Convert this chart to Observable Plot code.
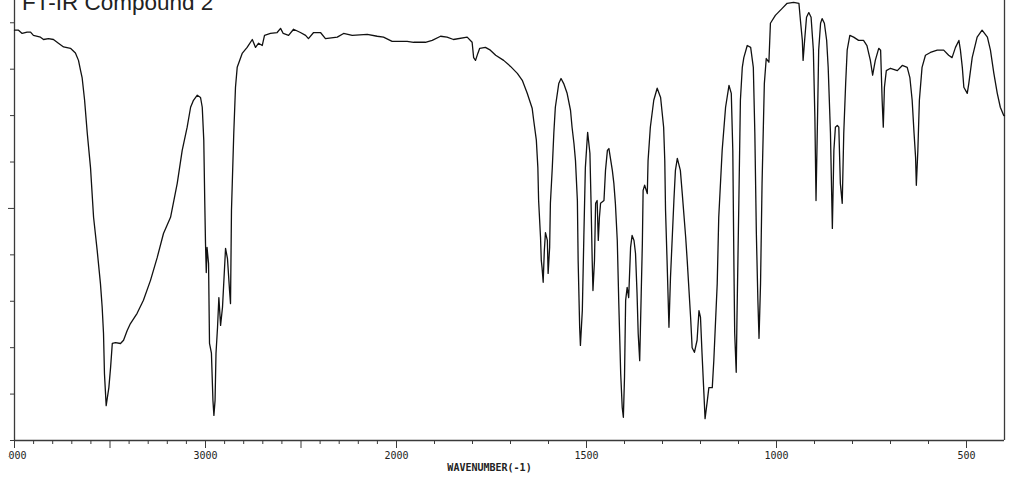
<!DOCTYPE html>
<html>
<head>
<meta charset="utf-8">
<script src="https://cdn.jsdelivr.net/npm/d3@7"></script>
<script src="https://cdn.jsdelivr.net/npm/@observablehq/plot@0.6"></script>
<style>
  html, body { margin: 0; padding: 0; background: #fff; }
  #wrap { position: relative; width: 1024px; height: 482px; overflow: hidden; }
  #wrap svg { display: block; position: absolute; left: 0; top: 0; clip-path: inset(0 0 0 8px); }
  #title { position: absolute; left: 22px; top: -8px; font: 22.5px/22px "Liberation Sans", Arial, sans-serif; color: #222; white-space: nowrap; z-index: 2; }
  #warn { position: absolute; left: 300px; top: 200px; color: red; font: 20px sans-serif; z-index: 3; }
</style>
</head>
<body>
<div id="wrap"><div id="title">FT-IR Compound 2</div></div>
<script>
const titleText = "FT-IR Compound 2";
const xLabel = "WAVENUMBER(-1)";

const wavenumber = [4000,3979,3960,3934,3916,3901,3864,3848,3822,3796,3770,3743,3707,3681,3665,3654,3646,3633,3619,3602,3586,3567,3550,3541,3534,3529,3520,3506,3497,3488,3471,3445,3429,3410,3393,3358,3325,3288,3253,3220,3183,3148,3122,3096,3078,3063,3043,3026,3017,3009,3004,3000,2996,2992,2984,2979,2969,2961,2956,2950,2945,2937,2930,2921,2911,2895,2885,2874,2869,2864,2852,2843,2834,2808,2782,2755,2738,2722,2703,2691,2660,2625,2607,2593,2565,2539,2503,2476,2461,2434,2398,2372,2310,2277,2232,2153,2101,2068,2023,1972,1955,1924,1906,1884,1867,1850,1814,1801,1797,1792,1786,1781,1766,1753,1739,1718,1700,1682,1669,1656,1643,1639,1632,1628,1626,1621,1619,1617,1614,1611,1608,1603,1601,1597,1595,1590,1586,1582,1573,1567,1560,1551,1542,1538,1533,1529,1524,1522,1518,1516,1511,1507,1503,1497,1491,1488,1485,1483,1479,1476,1472,1469,1466,1463,1454,1450,1445,1441,1432,1428,1424,1419,1415,1410,1406,1403,1400,1397,1393,1389,1384,1380,1375,1371,1367,1364,1360,1356,1353,1351,1347,1340,1338,1332,1323,1314,1305,1297,1294,1292,1288,1283,1279,1270,1266,1261,1253,1248,1239,1235,1226,1222,1216,1209,1204,1200,1196,1191,1188,1182,1178,1169,1165,1156,1152,1143,1134,1125,1119,1115,1112,1110,1106,1104,1099,1095,1090,1086,1077,1068,1061,1057,1053,1049,1046,1042,1038,1032,1027,1020,1016,1003,985,972,955,941,937,932,930,926,921,915,909,903,899,896,892,889,884,880,874,868,864,858,853,849,845,840,836,832,827,823,818,814,807,797,784,771,762,753,747,740,731,726,722,719,716,711,700,682,669,656,649,643,638,634,632,628,624,617,608,595,577,560,547,538,529,520,516,511,507,498,494,485,472,459,445,437,428,419,411,402,400];

const transmittance = [88.4,88.4,87.7,88.0,88.0,87.3,86.9,86.4,86.6,86.4,85.6,84.8,84.5,83.5,81.9,79.7,78.2,73.3,66.2,58.8,48.1,40.9,33.8,28.7,23.1,14.4,7.5,11.4,15.7,20.9,21.1,20.9,21.6,23.7,25.2,27.4,30.2,34.5,39.4,44.6,48.1,55.4,62.5,67.5,71.8,73.3,74.4,73.9,71.8,64.7,51.7,42.5,36.2,41.6,38.1,20.9,18.8,8.6,5.4,8.6,18.8,24.4,30.8,24.8,28.7,41.4,39.2,32.3,29.5,49.6,66.2,76.1,80.4,83.4,84.7,86.4,84.7,85.6,85.1,87.3,87.7,87.9,88.8,87.7,87.3,88.6,87.9,87.3,86.6,87.9,87.9,86.6,86.9,87.7,87.3,87.5,87.1,86.9,86.0,86.0,85.8,85.8,86.2,87.1,86.9,86.4,86.9,85.8,82.5,81.9,83.4,84.5,84.7,84.1,83.0,81.9,80.6,79.1,77.6,74.8,71.6,69.0,64.7,58.8,51.7,43.8,38.8,37.3,34.1,40.9,44.8,43.1,36.0,41.6,51.1,58.8,66.2,71.8,76.9,78.0,76.9,74.8,71.1,67.5,64.0,60.3,51.7,38.8,24.4,20.5,28.0,43.8,58.8,66.4,61.9,51.1,38.8,32.3,38.8,51.1,51.7,43.1,48.1,51.1,51.7,58.2,62.5,62.9,58.2,55.4,51.1,43.1,29.5,14.4,7.1,5.0,13.6,30.2,33.0,30.8,41.6,44.2,43.1,40.3,31.7,23.1,17.2,31.7,42.5,53.9,55.0,53.2,60.3,67.5,73.3,75.9,73.9,67.5,60.3,49.6,38.8,24.4,35.1,51.7,58.2,60.8,58.2,53.2,43.8,38.8,26.5,20.0,19.0,21.6,28.0,26.5,18.8,10.1,4.7,8.6,11.4,11.4,17.2,33.8,48.1,62.5,71.8,76.5,74.8,62.5,37.3,23.1,14.7,26.5,51.7,73.3,80.4,82.5,85.1,84.7,80.4,66.2,44.6,30.2,22.0,33.8,55.4,76.9,82.3,81.5,89.9,91.6,93.1,94.2,94.4,94.2,90.5,86.2,81.9,86.2,91.2,92.2,91.2,84.1,69.6,51.7,69.6,84.1,89.9,90.9,89.9,86.2,80.4,66.2,45.7,62.5,67.5,67.9,67.5,55.4,51.1,66.2,76.9,84.1,87.3,86.9,86.2,86.2,85.1,81.9,78.7,81.9,84.5,84.1,73.3,67.5,76.1,79.7,80.2,79.7,80.8,80.4,78.2,73.3,66.2,61.0,55.0,62.5,73.3,80.4,83.0,83.6,84.1,84.1,83.0,82.5,84.7,86.2,84.1,80.4,76.1,74.8,76.9,82.5,86.9,88.4,86.9,84.1,79.1,74.8,71.8,70.0,70.0];

const xLabelTicks = [4000, 3000, 2000, 1500, 1000, 500];
const xMajorTicks = [4000, 3500, 3000, 2500, 2000, 1500, 1000, 500];
const xMinorTicks = [3900,3800,3700,3600,3400,3300,3200,3100,2900,2800,2700,2600,2400,2300,2200,2100,1900,1800,1700,1600,1400,1300,1200,1100,900,800,700,600];
const yMinorTicks = [0,10,20,30,40,60,70,80,90];
const yMajorTicks = [50];

const n = Math.min(wavenumber.length, transmittance.length);
if (wavenumber.length !== transmittance.length) {
  const w = document.createElement("div");
  w.id = "warn";
  w.textContent = "len " + wavenumber.length + " vs " + transmittance.length;
  document.getElementById("wrap").appendChild(w);
}
const spectrum = d3.range(n).map(i => ({wn: wavenumber[i], t: transmittance[i]}));

const axisColor = "#3a3a3a";
const chart = Plot.plot({
  width: 1024,
  height: 482,
  marginLeft: 14,
  marginRight: 20,
  marginTop: 0,
  marginBottom: 42,
  style: {fontFamily: "'DejaVu Sans Mono', monospace", fontSize: "10px", color: "#222", background: "transparent"},
  x: {type: "linear", domain: [4000, 2000, 400], range: [14, 396, 1004]},
  y: {domain: [0, 94.8]},
  marks: [
    Plot.ruleX([4000], {stroke: axisColor, strokeWidth: 1.3}),
    Plot.ruleX([400], {stroke: axisColor, strokeWidth: 1.3}),
    Plot.ruleY([0], {stroke: axisColor, strokeWidth: 1.3}),
    Plot.axisY(yMinorTicks, {tickSize: 4, fill: "none", label: null, stroke: axisColor}),
    Plot.axisY(yMajorTicks, {tickSize: 7, fill: "none", label: null, stroke: axisColor}),
    Plot.axisX(xMinorTicks, {tickSize: 4, fill: "none", label: null, stroke: axisColor}),
    Plot.axisX(xMajorTicks, {tickSize: 8, fill: "none", label: null, stroke: axisColor}),
    Plot.axisX(xLabelTicks, {tickSize: 0, tickPadding: 11, tickFormat: d => String(d), label: null, fontSize: 10, fill: "#222"}),
    Plot.text([xLabel], {frameAnchor: "bottom", dy: 30, dx: -20, fontSize: 10, fontWeight: "bold", fill: "#222"}),
    Plot.line(spectrum, {x: "wn", y: "t", stroke: "#111", strokeWidth: 1.3})
  ]
});
document.getElementById("wrap").appendChild(chart);
</script>
</body>
</html>
